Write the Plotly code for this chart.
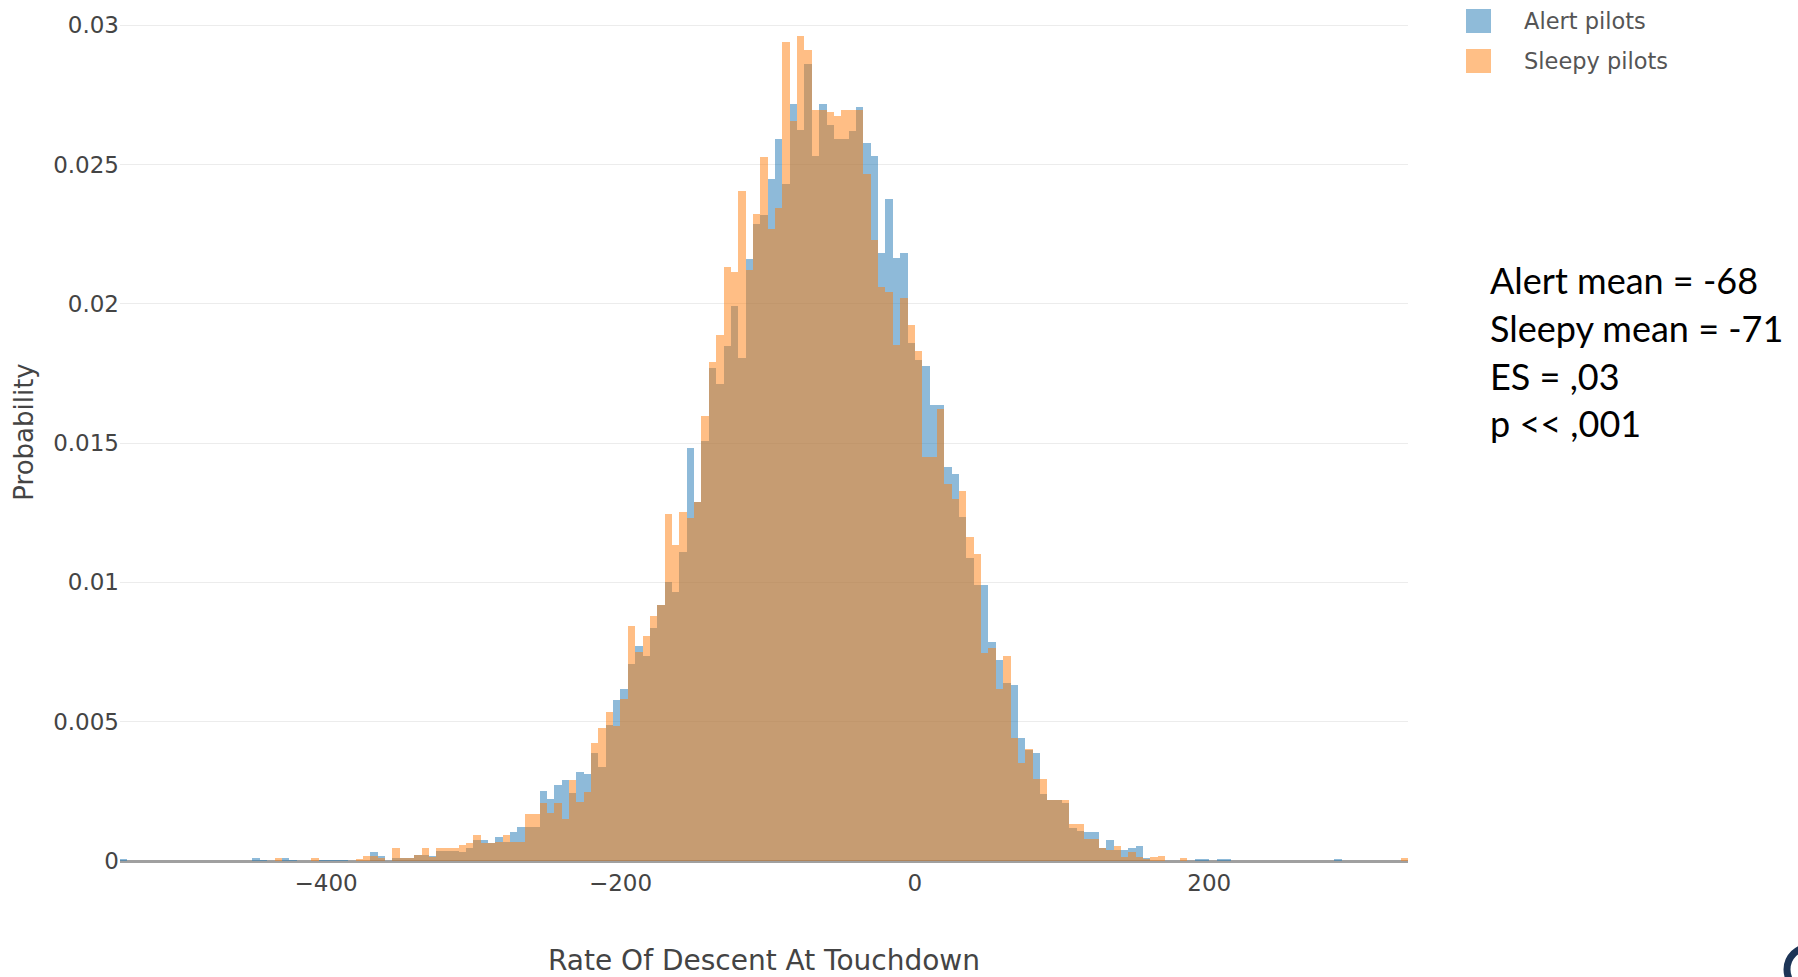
import plotly.graph_objects as go

# ---- data: probability per 5-unit bin (left edge listed in bin_left) ----
bin_left = list(range(-540, 335, 5))   # bin edges -540 ... 330 (175 bins, width 5)

alert = [
    0.00004, 0, 0, 0, 0, 0, 0, 0, 0, 0,                                   # -540..-495
    0, 0, 0, 0, 0, 0, 0, 0, 0.0001, 0.00003,                              # -490..-445
    0, 0, 0.0001, 0.00003, 0, 0, 0, 0.00003, 0.00003, 0.00003,            # -440..-395
    0.00003, 0, 0, 0, 0.00033, 0.00018, 0, 0.0001, 0.0001, 0.0001,        # -390..-345
    0.0002, 0.0002, 0.00018, 0.00036, 0.00036, 0.00036, 0.00034, 0.00045, 0.00075, 0.00075,  # -340..-295
    0.00064, 0.00085, 0.00069, 0.00105, 0.00123, 0.00123, 0.00123, 0.00253, 0.00224, 0.00274,  # -290..-245
    0.00289, 0.00245, 0.00319, 0.00313, 0.00388, 0.00337, 0.00488, 0.00578, 0.00616, 0.00706,  # -240..-195
    0.00771, 0.00735, 0.00837, 0.0092, 0.0100, 0.00967, 0.0111, 0.01483, 0.01289, 0.01508,     # -190..-145
    0.0177, 0.01711, 0.0185, 0.01993, 0.01806, 0.0216, 0.02288, 0.02318, 0.02449, 0.02592,     # -140..-95
    0.02429, 0.02717, 0.02624, 0.0286, 0.02532, 0.02717, 0.02643, 0.02592, 0.02592, 0.0262,    # -90..-45
    0.02707, 0.02576, 0.02532, 0.02183, 0.02375, 0.02163, 0.02183, 0.0186, 0.018, 0.01776,     # -40..5
    0.01636, 0.01636, 0.01414, 0.01391, 0.01235, 0.01086, 0.00992, 0.00992, 0.00787, 0.0072,   # 10..55
    0.0064, 0.00631, 0.0044, 0.004, 0.00388, 0.00242, 0.00218, 0.00218, 0.0021, 0.00117,       # 60..105
    0.00107, 0.00105, 0.00105, 0.00048, 0.00075, 0.0004, 0.0004, 0.00048, 0.00055, 0.00012,    # 110..155
    0, 0, 0, 0, 0, 0, 0.00004, 0.00004, 0, 0.00004,                       # 160..205
    0.00004, 0, 0, 0, 0, 0, 0, 0, 0, 0,                                   # 210..255
    0, 0, 0, 0, 0, 0.00004, 0, 0, 0, 0,                                   # 260..305
    0, 0, 0, 0, 0,                                                        # 310..330
]

sleepy = [
    0, 0, 0, 0, 0, 0, 0, 0, 0, 0,                                         # -540..-495
    0, 0, 0, 0, 0, 0, 0, 0, 0, 0,                                         # -490..-445
    0, 0.0001, 0, 0, 0, 0, 0.0001, 0, 0, 0,                               # -440..-395
    0, 0, 0.00008, 0.00018, 0.00018, 0.0001, 0, 0.00048, 0.0001, 0.0001,  # -390..-345
    0.0002, 0.00048, 0.00015, 0.00048, 0.00048, 0.00048, 0.00057, 0.00065, 0.00093, 0.00063,   # -340..-295
    0.00063, 0.00069, 0.00093, 0.00069, 0.00069, 0.00167, 0.0017, 0.0021, 0.00174, 0.0021,     # -290..-245
    0.00152, 0.00289, 0.00212, 0.00248, 0.00424, 0.00476, 0.00536, 0.00486, 0.00581, 0.00845,  # -240..-195
    0.0075, 0.00807, 0.00881, 0.0092, 0.01245, 0.01134, 0.01253, 0.01233, 0.01289, 0.01598,    # -190..-145
    0.01792, 0.01887, 0.02131, 0.02115, 0.02405, 0.0212, 0.02324, 0.02526, 0.02267, 0.02345,   # -140..-95
    0.0294, 0.02657, 0.0296, 0.0291, 0.02695, 0.02695, 0.02687, 0.02676, 0.02695, 0.02695,     # -90..-45
    0.02695, 0.02467, 0.02229, 0.02062, 0.02044, 0.01854, 0.0202, 0.01925, 0.0183, 0.01449,    # -40..5
    0.01449, 0.01621, 0.01352, 0.013, 0.01327, 0.01163, 0.01103, 0.00745, 0.00765, 0.00619,    # 10..55
    0.00735, 0.0044, 0.00352, 0.00402, 0.00293, 0.00293, 0.00218, 0.00218, 0.00218, 0.00134,   # 60..105
    0.00134, 0.00079, 0.00079, 0.00048, 0.0004, 0.00055, 0.00015, 0.00033, 0.00015, 0.00005,   # 110..155
    0.00015, 0.00018, 0, 0, 0.00012, 0, 0, 0, 0, 0,                      # 160..205
    0, 0, 0, 0, 0, 0, 0, 0, 0, 0,                                         # 210..255
    0, 0, 0, 0, 0, 0, 0, 0, 0, 0,                                         # 260..305
    0, 0, 0, 0, 0.0001,                                                   # 310..330
]

series_names = ["Alert pilots", "Sleepy pilots"]
stats_lines = ["Alert mean = -68", "Sleepy mean = -71", "ES = ,03", "p << ,001"]
x_title = "Rate Of Descent At Touchdown"
y_title = "Probability"

# ---- layout geometry (pixels) ----
W, H = 1798, 977
ML, MR, MT, MB = 120, 390, 3, 116
PW, PH = W - ML - MR, H - MT - MB


def px(xp):
    return (xp - ML) / PW


def py(yp):
    return (H - MB - yp) / PH


BLUE = "#1f77b4"
ORANGE = "#ff7f0e"
BIN_W = 5
centers = [b + BIN_W / 2 for b in bin_left]

fig = go.Figure()
fig.add_trace(go.Bar(x=centers, y=alert, width=BIN_W, name=series_names[0],
                     marker=dict(color=BLUE, line=dict(width=0)), opacity=0.5,
                     showlegend=False))
fig.add_trace(go.Bar(x=centers, y=sleepy, width=BIN_W, name=series_names[1],
                     marker=dict(color=ORANGE, line=dict(width=0)), opacity=0.5,
                     showlegend=False))

FONT = "DejaVu Sans"
GREY = "#444"

fig.update_layout(
    width=W, height=H,
    margin=dict(l=ML, r=MR, t=MT, b=MB, autoexpand=False),
    paper_bgcolor="white", plot_bgcolor="white",
    barmode="overlay", bargap=0,
    font=dict(family=FONT, color=GREY),
    xaxis=dict(range=[-540, 335], dtick=200, tick0=0, showgrid=False,
               zeroline=False, showline=False, ticks="", ticklabelstandoff=6,
               tickfont=dict(size=23, color=GREY, family=FONT),
               title=dict(text=x_title, font=dict(size=28, color=GREY, family=FONT), standoff=58),
               automargin=False),
    yaxis=dict(range=[0, 0.0308], dtick=0.005, showgrid=True, gridcolor="#ececec", gridwidth=1,
               zeroline=True, zerolinecolor="#a0a0a0", zerolinewidth=3,
               showline=False, ticks="",
               tickfont=dict(size=23, color=GREY, family=FONT),
               title=dict(text=y_title, font=dict(size=26, color=GREY, family=FONT), standoff=12),
               automargin=False),
)

# legend drawn as large squares + labels (matching the reference's big swatches)
legend_rows = [(BLUE, series_names[0], 9, 33), (ORANGE, series_names[1], 49, 73)]
for color, label, y0, y1 in legend_rows:
    fig.add_shape(type="rect", xref="paper", yref="paper",
                  x0=px(1466), x1=px(1491), y0=py(y1), y1=py(y0),
                  fillcolor=color, opacity=0.5, line=dict(width=0))
    fig.add_annotation(xref="paper", yref="paper", x=px(1522), y=py((y0 + y1) / 2),
                       text=label, showarrow=False, xanchor="left", yanchor="middle",
                       font=dict(family=FONT, size=22.5, color="#555"))

# statistics text block
for i, line in enumerate(stats_lines):
    fig.add_annotation(xref="paper", yref="paper", x=px(1488), y=py(280 + i * 47.8),
                       text=line, showarrow=False, xanchor="left", yanchor="middle",
                       font=dict(family="Lato", size=36, color="black"))

# partial logo fragment visible at the bottom-right corner of the reference
fig.add_shape(type="circle", xref="paper", yref="paper",
              x0=px(1787), x1=px(1833), y0=py(992), y1=py(947),
              line=dict(color="#1d3557", width=7), fillcolor="rgba(0,0,0,0)")

fig.write_html("out.html")
